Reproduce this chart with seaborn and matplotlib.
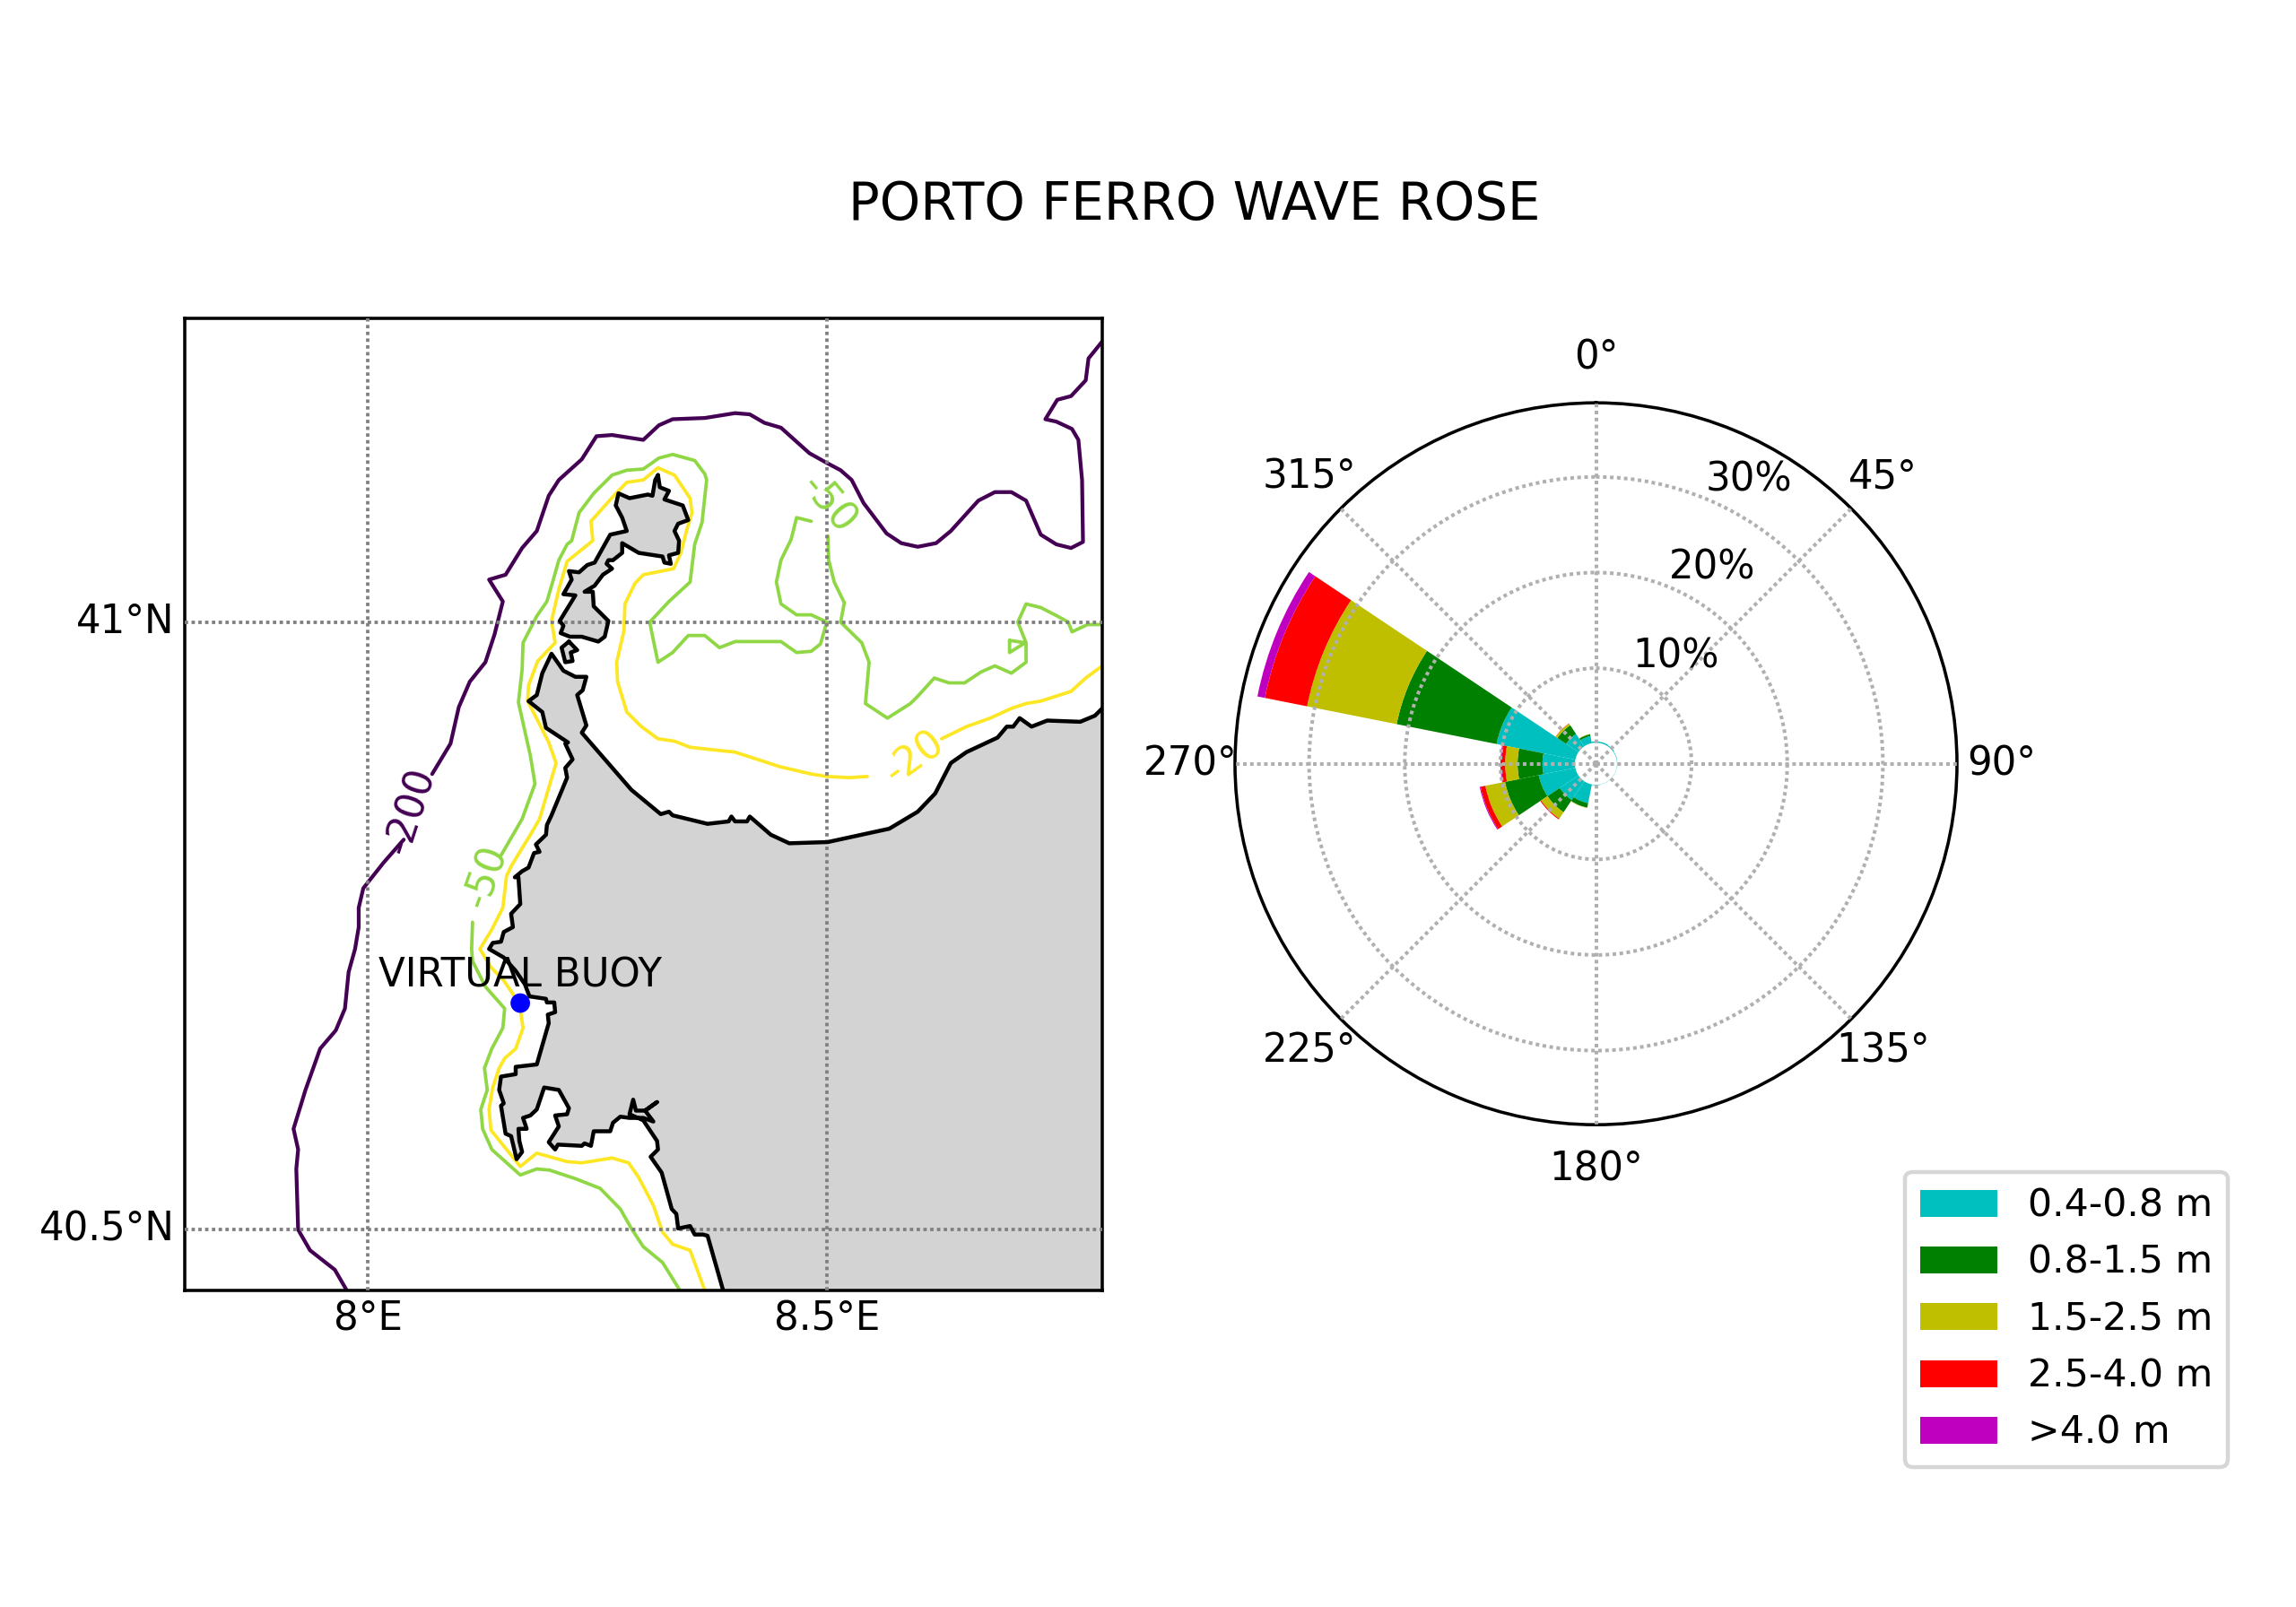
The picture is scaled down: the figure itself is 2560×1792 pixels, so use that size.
import numpy as np
import pandas as pd
import matplotlib
matplotlib.use("Agg")
import matplotlib.pyplot as plt
from matplotlib.transforms import ScaledTranslation
import seaborn as sns

# ---- wave rose data (percent of occurrence per direction and height class)
directions = [0, 22.5, 45, 67.5, 90, 112.5, 135, 157.5, 180, 202.5, 225, 247.5, 270, 292.5, 315, 337.5]
calm = 2.2
h_04_08 = [0.14, 0.14, 0.10, 0.05, 0.03, 0.02, 0.02, 0.02, 0.05, 2.00, 2.36, 3.90, 3.40, 8.40, 1.56, 0.75]
h_08_15 = [0, 0, 0, 0, 0, 0, 0, 0, 0, 0.48, 1.54, 3.60, 2.60, 10.65, 1.09, 0.20]
h_15_25 = [0, 0, 0, 0, 0, 0, 0, 0, 0, 0.04, 0.80, 2.10, 1.30, 9.55, 0.20, 0.03]
h_25_40 = [0, 0, 0, 0, 0, 0, 0, 0, 0, 0, 0.10, 0.50, 0.40, 4.50, 0.03, 0]
h_40_up = [0, 0, 0, 0, 0, 0, 0, 0, 0, 0, 0, 0.10, 0.10, 0.80, 0, 0]
class_labels = ["0.4-0.8 m", "0.8-1.5 m", "1.5-2.5 m", "2.5-4.0 m", ">4.0 m"]
class_colors = ["#00BFBF", "#008000", "#BFBF00", "#FF0000", "#BF00BF"]
r_ticks = [10, 20, 30]
theta_ticks = [0, 45, 90, 135, 180, 225, 270, 315]

# ---- map data: isobaths and coast in lon / lat
iso200_a_lon = [7.977, 7.964, 7.937, 7.924, 7.922, 7.924, 7.919, 7.932, 7.948, 7.965, 7.975, 7.979, 7.986, 7.990, 7.990, 7.995, 8.017, 8.039]
iso200_a_lat = [40.450, 40.467, 40.483, 40.500, 40.550, 40.566, 40.583, 40.615, 40.649, 40.664, 40.682, 40.712, 40.731, 40.749, 40.765, 40.781, 40.802, 40.821]
iso200_b_lon = [8.070, 8.090, 8.099, 8.111, 8.128, 8.138, 8.147, 8.132, 8.150, 8.168, 8.184, 8.197, 8.208, 8.233, 8.249, 8.266, 8.300, 8.317, 8.332, 8.367, 8.400, 8.416, 8.432, 8.450, 8.481, 8.500, 8.515, 8.527, 8.540, 8.565, 8.581, 8.599, 8.619, 8.635, 8.665, 8.683, 8.701, 8.717, 8.733, 8.750, 8.766, 8.779, 8.778, 8.774, 8.767, 8.750, 8.738, 8.751, 8.766, 8.782, 8.785, 8.800]
iso200_b_lat = [40.875, 40.900, 40.930, 40.951, 40.967, 40.990, 41.017, 41.035, 41.039, 41.061, 41.075, 41.104, 41.117, 41.134, 41.153, 41.154, 41.150, 41.162, 41.167, 41.168, 41.172, 41.171, 41.164, 41.160, 41.139, 41.131, 41.125, 41.117, 41.098, 41.073, 41.065, 41.062, 41.065, 41.075, 41.100, 41.107, 41.107, 41.100, 41.072, 41.064, 41.061, 41.066, 41.117, 41.150, 41.159, 41.165, 41.167, 41.183, 41.186, 41.199, 41.217, 41.231]

iso50_a_lon = [8.340, 8.321, 8.300, 8.287, 8.275, 8.253, 8.226, 8.198, 8.184, 8.166, 8.135, 8.125, 8.123, 8.130, 8.127, 8.135, 8.147, 8.149, 8.128, 8.114, 8.113, 8.114]
iso50_a_lat = [40.450, 40.473, 40.486, 40.501, 40.517, 40.534, 40.542, 40.549, 40.550, 40.545, 40.566, 40.583, 40.599, 40.615, 40.633, 40.649, 40.666, 40.682, 40.700, 40.721, 40.731, 40.753]
iso50_b_lon = [8.145, 8.168, 8.182, 8.177, 8.169, 8.164, 8.168, 8.169, 8.184, 8.195, 8.202, 8.208, 8.217, 8.222, 8.230, 8.246, 8.266, 8.282, 8.300, 8.317, 8.332, 8.356, 8.367, 8.369, 8.364, 8.356, 8.351, 8.328, 8.307, 8.311, 8.316, 8.332, 8.349, 8.367, 8.383, 8.400, 8.450, 8.467, 8.483, 8.493, 8.500, 8.483, 8.467, 8.450, 8.445, 8.450, 8.461, 8.467, 8.483]
iso50_b_lat = [40.808, 40.838, 40.867, 40.890, 40.917, 40.934, 40.961, 40.983, 41.005, 41.017, 41.035, 41.051, 41.064, 41.067, 41.090, 41.106, 41.121, 41.125, 41.126, 41.135, 41.138, 41.133, 41.122, 41.117, 41.082, 41.064, 41.033, 41.017, 41.000, 40.985, 40.967, 40.975, 40.989, 40.989, 40.979, 40.984, 40.984, 40.975, 40.976, 40.982, 41.000, 41.006, 41.006, 41.015, 41.033, 41.051, 41.068, 41.086, 41.083]
iso50_c_lon = [8.501, 8.502, 8.508, 8.519, 8.515, 8.538, 8.546, 8.542, 8.566, 8.591, 8.599, 8.617, 8.633, 8.650, 8.668, 8.683, 8.701, 8.717, 8.717, 8.708, 8.717, 8.733, 8.751, 8.763, 8.767, 8.784, 8.800]
iso50_c_lat = [41.071, 41.051, 41.033, 41.016, 41.000, 40.983, 40.967, 40.933, 40.921, 40.933, 40.939, 40.954, 40.950, 40.950, 40.959, 40.964, 40.958, 40.967, 40.983, 41.000, 41.015, 41.012, 41.005, 41.000, 40.992, 40.998, 40.998]
iso50_d_lon = [8.699, 8.716, 8.699, 8.699]
iso50_d_lat = [40.985, 40.983, 40.975, 40.985]

iso20_a_lon = [8.367, 8.351, 8.332, 8.321, 8.311, 8.295, 8.284, 8.266, 8.233, 8.217, 8.184, 8.166, 8.134, 8.132, 8.136, 8.143, 8.149, 8.161, 8.169, 8.166, 8.158, 8.148, 8.134, 8.122, 8.135, 8.147, 8.151, 8.156, 8.168, 8.177, 8.187, 8.205, 8.197, 8.185, 8.174, 8.175, 8.185, 8.204, 8.200, 8.208, 8.217, 8.245, 8.243, 8.269, 8.282, 8.300, 8.316, 8.334, 8.351, 8.353, 8.347, 8.341, 8.333, 8.300, 8.291, 8.280, 8.279, 8.271, 8.272, 8.282, 8.298, 8.316, 8.334, 8.351, 8.400, 8.449, 8.483, 8.500, 8.524, 8.544]
iso20_a_lat = [40.450, 40.483, 40.488, 40.498, 40.520, 40.543, 40.555, 40.559, 40.555, 40.556, 40.563, 40.552, 40.582, 40.599, 40.617, 40.633, 40.641, 40.649, 40.666, 40.681, 40.694, 40.705, 40.716, 40.731, 40.747, 40.765, 40.791, 40.799, 40.814, 40.825, 40.838, 40.884, 40.901, 40.919, 40.935, 40.948, 40.968, 40.983, 41.001, 41.027, 41.050, 41.067, 41.083, 41.105, 41.115, 41.117, 41.127, 41.121, 41.102, 41.090, 41.075, 41.057, 41.044, 41.039, 41.032, 41.015, 40.993, 40.967, 40.951, 40.926, 40.914, 40.904, 40.902, 40.897, 40.893, 40.881, 40.875, 40.873, 40.872, 40.873]
iso20_b_lon = [8.625, 8.652, 8.678, 8.701, 8.717, 8.733, 8.766, 8.782, 8.800]
iso20_b_lat = [40.904, 40.914, 40.921, 40.929, 40.933, 40.935, 40.943, 40.954, 40.964]

main_lon = [8.387, 8.370, 8.365, 8.356, 8.351, 8.338, 8.336, 8.331, 8.320, 8.308, 8.316, 8.315, 8.300, 8.285, 8.289, 8.292, 8.302, 8.315, 8.302, 8.311, 8.300, 8.285, 8.275, 8.267, 8.264, 8.246, 8.243, 8.236, 8.233, 8.207, 8.204, 8.197, 8.208, 8.204, 8.217, 8.219, 8.208, 8.192, 8.184, 8.177, 8.169, 8.173, 8.164, 8.165, 8.168, 8.162, 8.156, 8.150, 8.145, 8.148, 8.143, 8.145, 8.161, 8.161, 8.184, 8.197, 8.196, 8.204, 8.203, 8.195, 8.194, 8.176, 8.171, 8.161, 8.148, 8.132, 8.136, 8.145, 8.148, 8.158, 8.156, 8.166, 8.164, 8.160, 8.168, 8.175, 8.181, 8.187, 8.183, 8.194, 8.195, 8.200, 8.217, 8.215, 8.223, 8.215, 8.218, 8.194, 8.190, 8.175, 8.184, 8.190, 8.200, 8.213, 8.226, 8.238, 8.234, 8.228, 8.234, 8.238, 8.233, 8.287, 8.319, 8.328, 8.332, 8.370, 8.393, 8.396, 8.400, 8.413, 8.416, 8.439, 8.459, 8.501, 8.568, 8.599, 8.618, 8.635, 8.652, 8.686, 8.696, 8.703, 8.710, 8.723, 8.740, 8.776, 8.792, 8.800]
main_lat = [40.450, 40.495, 40.496, 40.496, 40.503, 40.501, 40.513, 40.517, 40.547, 40.560, 40.566, 40.573, 40.590, 40.595, 40.607, 40.598, 40.598, 40.605, 40.598, 40.589, 40.592, 40.592, 40.593, 40.588, 40.581, 40.581, 40.569, 40.571, 40.569, 40.570, 40.566, 40.572, 40.585, 40.594, 40.595, 40.600, 40.615, 40.617, 40.599, 40.594, 40.592, 40.583, 40.583, 40.573, 40.564, 40.558, 40.577, 40.579, 40.602, 40.604, 40.615, 40.626, 40.628, 40.634, 40.636, 40.670, 40.677, 40.679, 40.687, 40.687, 40.690, 40.692, 40.702, 40.713, 40.724, 40.731, 40.736, 40.737, 40.745, 40.749, 40.760, 40.768, 40.790, 40.790, 40.795, 40.798, 40.810, 40.811, 40.817, 40.825, 40.833, 40.841, 40.872, 40.880, 40.887, 40.900, 40.901, 40.913, 40.926, 40.935, 40.940, 40.958, 40.974, 40.960, 40.955, 40.955, 40.944, 40.940, 40.925, 40.915, 40.909, 40.862, 40.842, 40.844, 40.841, 40.834, 40.836, 40.840, 40.836, 40.836, 40.840, 40.825, 40.818, 40.819, 40.830, 40.844, 40.859, 40.884, 40.893, 40.905, 40.914, 40.914, 40.921, 40.914, 40.919, 40.918, 40.923, 40.929]
corner_lon = [8.80, 8.80, 8.387]
corner_lat = [40.929, 40.45, 40.45]
asinara_lon = [8.316, 8.318, 8.328, 8.323, 8.343, 8.349, 8.338, 8.334, 8.339, 8.338, 8.328, 8.330, 8.323, 8.321, 8.295, 8.277, 8.277, 8.267, 8.262, 8.260, 8.266, 8.256, 8.247, 8.236, 8.245, 8.246, 8.262, 8.258, 8.251, 8.233, 8.220, 8.210, 8.213, 8.209, 8.226, 8.213, 8.222, 8.219, 8.230, 8.239, 8.247, 8.264, 8.282, 8.277, 8.270, 8.273, 8.285, 8.305, 8.310, 8.313, 8.316]
asinara_lat = [41.121, 41.111, 41.108, 41.101, 41.096, 41.084, 41.081, 41.075, 41.067, 41.057, 41.055, 41.048, 41.049, 41.054, 41.057, 41.065, 41.057, 41.051, 41.051, 41.048, 41.044, 41.039, 41.030, 41.025, 41.025, 41.013, 41.001, 40.988, 40.984, 40.988, 40.988, 40.991, 40.997, 41.001, 41.022, 41.023, 41.035, 41.042, 41.041, 41.047, 41.049, 41.072, 41.075, 41.086, 41.096, 41.106, 41.102, 41.105, 41.104, 41.117, 41.121]
islet_lon = [8.219, 8.228, 8.221, 8.223, 8.215, 8.211, 8.219]
islet_lat = [40.984, 40.977, 40.975, 40.968, 40.967, 40.979, 40.984]
buoy_lon = [8.166]
buoy_lat = [40.6865]
lon_ticks = [8.0, 8.5]
lon_labels = ["8°E", "8.5°E"]
lat_ticks = [40.5, 41.0]
lat_labels = ["40.5°N", "41°N"]

PURPLE, GREEN, YELLOW = "#440154", "#8FD744", "#FDE725"
FS = 9.8

sns.set_theme(style="white")
plt.rcParams["font.family"] = ["DejaVu Sans"]
plt.rcParams["axes.edgecolor"] = "black"
plt.rcParams["text.color"] = "black"
W, H = 2560, 1792
fig = plt.figure(figsize=(W / 320, H / 320), dpi=320)


def box(l, t, r, b):
    return [l / W, 1 - b / H, (r - l) / W, (b - t) / H]


# ---- map panel
ax = fig.add_axes(box(205.5, 355, 1229, 1439))
ax.fill(main_lon + corner_lon, main_lat + corner_lat, facecolor="lightgray", edgecolor="none", zorder=1)
ax.fill(asinara_lon, asinara_lat, facecolor="lightgray", edgecolor="none", zorder=1)
ax.fill(islet_lon, islet_lat, facecolor="lightgray", edgecolor="none", zorder=1)


def trace(lon, lat, color, lw=0.85, z=2):
    sns.lineplot(x=lon, y=lat, sort=False, estimator=None, color=color, linewidth=lw, ax=ax, zorder=z)


for a, b in [(iso200_a_lon, iso200_a_lat), (iso200_b_lon, iso200_b_lat)]:
    trace(a, b, PURPLE, lw=0.95)
for a, b in [(iso50_a_lon, iso50_a_lat), (iso50_b_lon, iso50_b_lat), (iso50_c_lon, iso50_c_lat), (iso50_d_lon, iso50_d_lat)]:
    trace(a, b, GREEN)
for a, b in [(iso20_a_lon, iso20_a_lat), (iso20_b_lon, iso20_b_lat)]:
    trace(a, b, YELLOW)
for a, b in [(main_lon, main_lat), (asinara_lon, asinara_lat), (islet_lon, islet_lat)]:
    trace(a, b, "black", lw=1.0, z=3)

ax.text(8.046, 40.845, "-200", color=PURPLE, fontsize=FS, rotation=72, ha="center", va="center", zorder=4)
ax.text(8.129, 40.791, "-50", color=GREEN, fontsize=FS, rotation=70, ha="center", va="center", zorder=4)
ax.text(8.502, 41.097, "-50", color=GREEN, fontsize=FS, rotation=-50, ha="center", va="center", zorder=4)
ax.text(8.596, 40.889, "-20", color=YELLOW, fontsize=FS, rotation=36, ha="center", va="center", zorder=4)

sns.scatterplot(x=buoy_lon, y=buoy_lat, color="#0000FF", s=24, edgecolor="none", ax=ax, zorder=6)
ax.text(buoy_lon[0], 40.693, "VIRTUAL BUOY", fontsize=FS, color="black", ha="center", va="bottom", zorder=7)

ax.set_xlim(7.80, 8.80)
ax.set_ylim(40.45, 41.25)
ax.set_xticks(lon_ticks, lon_labels)
ax.set_yticks(lat_ticks, lat_labels)
ax.set_xlabel("")
ax.set_ylabel("")
ax.tick_params(axis="both", length=0, labelsize=FS, labelcolor="black")
ax.tick_params(axis="x", pad=2.3)
ax.tick_params(axis="y", pad=2.45)
lift = ScaledTranslation(0, 1.1 / 72, fig.dpi_scale_trans)
for lbl in ax.get_yticklabels():
    lbl.set_transform(lbl.get_transform() + lift)
ax.grid(True, color="#808080", linewidth=0.85, linestyle=(0, (1, 1)), zorder=5)
ax.set_axisbelow(False)
for s in ax.spines.values():
    s.set_linewidth(0.8)
    s.set_color("black")

# ---- wave rose panel
rose = fig.add_axes(box(1377, 449.2, 2182, 1254.2), projection="polar")
rose.set_theta_zero_location("N")
rose.set_theta_direction(-1)
frame = pd.DataFrame({"dir": directions, class_labels[0]: h_04_08, class_labels[1]: h_08_15,
                      class_labels[2]: h_15_25, class_labels[3]: h_25_40, class_labels[4]: h_40_up})
theta = np.deg2rad(frame["dir"].to_numpy())
base = np.full(len(frame), calm, dtype=float)
for label, colour in zip(class_labels, class_colors):
    vals = frame[label].to_numpy()
    rose.bar(theta, vals, width=np.deg2rad(22.5), bottom=base, color=colour, edgecolor="none",
             linewidth=0, label=label, zorder=2)
    base = base + vals
rose.set_ylim(0, 37.75)
rose.set_xticks(np.deg2rad(theta_ticks), [f"{t}°" for t in theta_ticks])
rose.set_yticks(r_ticks, [""] * len(r_ticks))
for r in r_ticks:
    rose.text(np.deg2rad(22.5), r, f"{r}%", fontsize=FS, color="black", ha="left", va="bottom", zorder=5)
rose.tick_params(axis="x", labelsize=FS, labelcolor="black", pad=-1.8)
rose.grid(True, color="#b0b0b0", linewidth=0.9, linestyle=(0, (1, 0.95)), zorder=3)
rose.set_axisbelow(False)
rose.spines["polar"].set_linewidth(0.8)
rose.spines["polar"].set_color("black")

leg = rose.legend(loc="lower right", bbox_to_anchor=(2484 / W, 1 - 1636 / H), bbox_transform=fig.transFigure,
                  borderaxespad=0, fontsize=9.6, frameon=True, framealpha=0.8, edgecolor="#cccccc", fancybox=True,
                  labelcolor="black")

fig.text(1332 / W, 1 - 229 / H, "PORTO FERRO WAVE ROSE", fontsize=13.0, color="black", ha="center", va="center")
fig.savefig("out.png", dpi=320, facecolor="white")
